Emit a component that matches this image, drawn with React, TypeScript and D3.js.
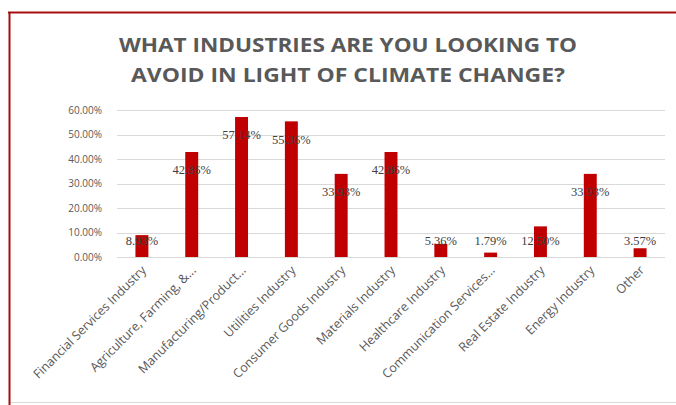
import React from "react";
import * as d3 from "d3";

const categories = [
  "Financial Services Industry",
  "Agriculture, Farming, &...",
  "Manufacturing/Product...",
  "Utilities Industry",
  "Consumer Goods Industry",
  "Materials Industry",
  "Healthcare Industry",
  "Communication Services...",
  "Real Estate Industry",
  "Energy Industry",
  "Other",
];
const values = [8.93, 42.86, 57.14, 55.36, 33.93, 42.86, 5.36, 1.79, 12.5, 33.93, 3.57];
const yTicks = [0, 10, 20, 30, 40, 50, 60];
const titleLines = ["WHAT INDUSTRIES ARE YOU LOOKING TO", "AVOID IN LIGHT OF CLIMATE CHANGE?"];

const W = 676;
const H = 405;

export default function App() {
  const x = d3.scaleBand<string>().domain(categories).range([117, 665]).paddingInner(0.74).paddingOuter(0.37);
  const y = d3.scaleLinear().domain([0, 60]).range([257, 110]);
  const bw = x.bandwidth();
  const sans = "'Open Sans', 'Liberation Sans', sans-serif";
  return (
    <div style={{ position: "absolute", left: 0, top: 0 }}>
      <svg width={W} height={H} style={{ display: "block" }}>
        <rect x={0} y={0} width={W} height={H} fill="#ffffff" />
        {/* frame */}
        <line x1={10} x2={W} y1={402.5} y2={402.5} stroke="#d9d9d9" strokeWidth={1} />
        <line x1={8} x2={W} y1={12.5} y2={12.5} stroke="#a50f0f" strokeWidth={2} />
        <line x1={9.5} x2={9.5} y1={12} y2={H} stroke="#a50f0f" strokeWidth={2} />
        {/* title */}
        {titleLines.map((t, i) => (
          <text
            key={i}
            x={348}
            y={52 + i * 30}
            textAnchor="middle"
            fontFamily={sans}
            fontWeight={700}
            fontSize={19}
            fill="#595959"
            textLength={i === 0 ? 458 : 434}
            lengthAdjust="spacingAndGlyphs"
          >
            {t}
          </text>
        ))}
        {/* gridlines & y ticks */}
        {yTicks.map((t) => (
          <g key={t}>
            <line x1={117} x2={665} y1={Math.round(y(t)) + 0.5} y2={Math.round(y(t)) + 0.5} stroke="#d9d9d9" strokeWidth={1} />
            <text x={102} y={y(t)} dy="0.35em" textAnchor="end" fontFamily={sans} fontSize={10} fill="#595959">
              {t.toFixed(2)}%
            </text>
          </g>
        ))}
        {/* bars */}
        {categories.map((c, i) => (
          <rect key={c} x={x(c)} y={y(values[i])} width={bw} height={y(0) - y(values[i])} fill="#c00000" />
        ))}
        {/* data labels */}
        {categories.map((c, i) => (
          <text
            key={c}
            x={(x(c) as number) + bw / 2}
            y={Math.min(y(values[i]) + 18, y(0) - 16)}
            dy="0.35em"
            textAnchor="middle"
            fontFamily="'Liberation Serif', serif"
            fontSize={12.5}
            fill="#404040"
          >
            {values[i].toFixed(2)}%
          </text>
        ))}
        {/* x labels */}
        {categories.map((c) => {
          const cx = (x(c) as number) + bw / 2 + 5;
          return (
            <text
              key={c}
              transform={`translate(${cx},${271}) rotate(-45)`}
              textAnchor="end"
              fontFamily={sans}
              fontSize={12.5}
              fill="#595959"
            >
              {c}
            </text>
          );
        })}
      </svg>
    </div>
  );
}
